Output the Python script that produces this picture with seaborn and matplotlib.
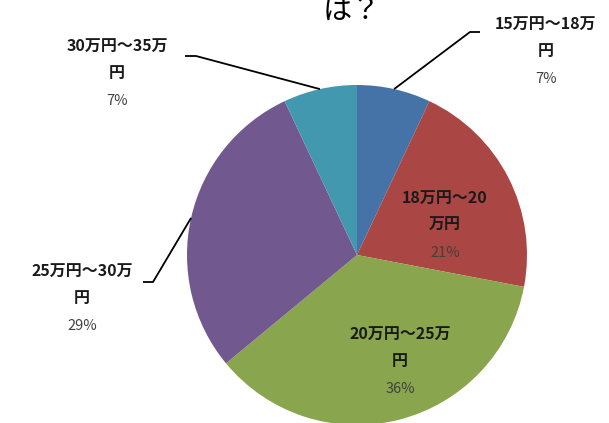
import numpy as np
import matplotlib
matplotlib.use("Agg")
import matplotlib.pyplot as plt
import seaborn as sns

# ---- data ----
categories = ["15万円～18万円", "18万円～20万円", "20万円～25万円", "25万円～30万円", "30万円～35万円"]
label_text = ["15万円～18万\n円", "18万円～20\n万円", "20万円～25万\n円", "25万円～30万\n円", "30万円～35万\n円"]
percent = [7, 21, 36, 29, 7]
colors = ["#4572A7", "#AA4643", "#89A54E", "#71588F", "#4198AF"]
title_text = "は？"

sns.set_theme(style="white")
plt.rcParams["font.family"] = ["Noto Sans CJK JP", "DejaVu Sans"]

W, H = 609, 423
fig = plt.figure(figsize=(W / 100, H / 100), dpi=100)
ax = fig.add_axes([0, 0, 1, 1])

cx, cy, R = 357, H - 255, 170
wedges, _ = ax.pie(percent, colors=colors, startangle=90, counterclock=False,
                   center=(cx, cy), radius=R, frame=True,
                   wedgeprops=dict(linewidth=0))
ax.set_xlim(0, W)
ax.set_ylim(0, H)
ax.set_aspect("equal")
ax.axis("off")

def edge_point(i):
    start = sum(percent[:i])
    mid = (start + percent[i] / 2) / sum(percent) * 2 * np.pi
    return cx + R * np.sin(mid), cy + R * np.cos(mid)

placement = {
    0: dict(x=546, y=25, leader=[(480, 32), (470, 32)]),
    1: dict(x=445, y=199, leader=None),
    2: dict(x=400, y=335, leader=None),
    3: dict(x=82, y=272, leader=[(143, 282), (153, 282)]),
    4: dict(x=117, y=47, leader=[(185, 56), (196, 56)]),
}

for i, cat in enumerate(categories):
    p = placement[i]
    lines = label_text[i].split("\n")
    y = p["y"]
    for ln in lines:
        ax.text(p["x"], H - y, ln, ha="center", va="center", fontsize=11.5,
                fontweight="bold", color="#1a1a1a")
        y += 26
    ax.text(p["x"], H - y - 2, f"{percent[i]}%", ha="center", va="center",
            fontsize=10.5, color="#404040")
    if p["leader"]:
        ex, ey = edge_point(i)
        pts = [(a, H - b) for a, b in p["leader"]] + [(ex, ey)]
        xs, ys = zip(*pts)
        ax.plot(xs, ys, color="black", lw=1.3, solid_capstyle="butt")

ax.text(352, H - 19, title_text, ha="center", va="baseline", fontsize=21,
        color="black")

fig.savefig("out.png", dpi=100)
